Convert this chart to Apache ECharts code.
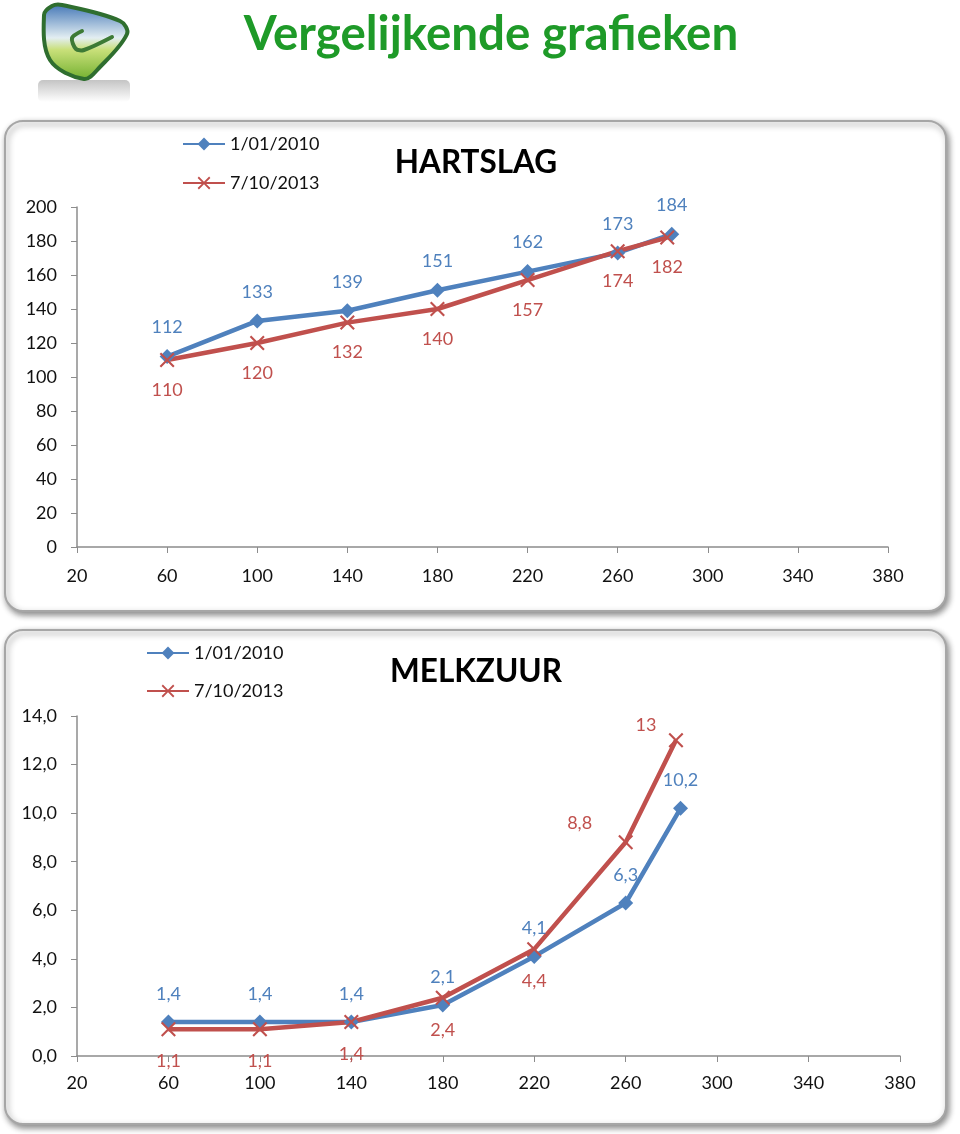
<!DOCTYPE html>
<html><head><meta charset="utf-8">
<script src="https://cdn.jsdelivr.net/npm/echarts@6/dist/echarts.min.js"></script>
<style>html,body{margin:0;padding:0;background:#fff}#c{width:960px;height:1134px}</style>
</head><body><div id="c"></div>
<script>
// ---- data ----
const pageTitle = 'Vergelijkende grafieken';
const chartTitles = ['HARTSLAG', 'MELKZUUR'];
const seriesNames = ['1/01/2010', '7/10/2013'];
const xBlue = [60, 100, 140, 180, 220, 260, 284];
const xRed = [60, 100, 140, 180, 220, 260, 282];
const hartBlue = [112, 133, 139, 151, 162, 173, 184];
const hartRed = [110, 120, 132, 140, 157, 174, 182];
const melkBlue = [1.4, 1.4, 1.4, 2.1, 4.1, 6.3, 10.2];
const melkRed = [1.1, 1.1, 1.4, 2.4, 4.4, 8.8, 13];
const xTickMin = 20, xTickMax = 380, xTickStep = 40;
const hartTickMin = 0, hartTickMax = 200, hartTickStep = 20;
const melkTickMin = 0, melkTickMax = 14, melkTickStep = 2;

// ---- styling ----
const FONT = 'Lato, "Open Sans", sans-serif';
const FS = 18;
const BLUE = '#4F81BD', RED = '#C0504D';
const X_SYMBOL = 'path://M1,0L5,4L9,0L10,1L6,5L10,9L9,10L5,6L1,10L0,9L4,5L0,1Z';
const comma = v => String(v).replace('.', ',');
const pairs = (xs, ys) => ys.map((y, i) => [xs[i], y]);

function xAxis(gi, margin) {
  return {
    type: 'value', gridIndex: gi, min: xTickMin, max: xTickMax, interval: xTickStep,
    axisLine: {show: true, lineStyle: {color: '#8c8c8c', width: 1.5}},
    axisTick: {show: true, length: 6, lineStyle: {color: '#8c8c8c'}},
    splitLine: {show: false},
    axisLabel: {color: '#111', fontSize: FS, fontFamily: FONT, margin: margin}
  };
}
function yAxis(gi, min, max, step, fmt) {
  return {
    type: 'value', gridIndex: gi, min: min, max: max, interval: step,
    axisLine: {show: true, lineStyle: {color: '#8c8c8c', width: 1.5}},
    axisTick: {show: true, length: 6, lineStyle: {color: '#8c8c8c'}},
    splitLine: {show: false},
    axisLabel: {color: '#111', fontSize: FS, fontFamily: FONT, margin: 20, formatter: fmt}
  };
}
function lineSeries(name, gi, data, color, symbol, size, labelOffset, overrides) {
  return {
    type: 'line', name: name, xAxisIndex: gi, yAxisIndex: gi,
    data: data.map((d, i) => {
      const o = overrides && overrides[i];
      return o ? {value: d, label: {offset: o}} : {value: d};
    }),
    symbol: symbol, symbolSize: size, showAllSymbol: true,
    lineStyle: {color: color, width: 4.5},
    itemStyle: {color: color},
    label: {show: true, position: 'inside', offset: labelOffset, color: color,
      fontSize: FS, fontFamily: FONT, formatter: p => comma(p.value[1])},
    emphasis: {disabled: true},
    animation: false
  };
}
function legend(left, top, gap) {
  return {
    data: seriesNames, orient: 'vertical', left: left, top: top, padding: 0,
    itemWidth: 42, itemHeight: 16, itemGap: gap,
    textStyle: {fontSize: FS, fontFamily: FONT, color: '#111'},
    selectedMode: false
  };
}

const logoOuterPts = [[52,6],[44,15],[50,60],[84,79],[99,68],[127,34],[120,21],[62,5]];
const logoInnerPts = [[82,31],[72,38],[76,49],[84,50],[112,37]];

const option = {
  backgroundColor: '#fff',
  animation: false,
  title: [
    {text: pageTitle, left: 486, top: 6, textAlign: 'center',
      textStyle: {color: '#1E9A28', fontSize: 47.5, fontWeight: 'bold', fontFamily: FONT}},
    {text: chartTitles[0], left: 471, top: 142, textAlign: 'center',
      textStyle: {color: '#000', fontSize: 31.5, fontWeight: 'bold', fontFamily: FONT}},
    {text: chartTitles[1], left: 471, top: 651, textAlign: 'center',
      textStyle: {color: '#000', fontSize: 31.5, fontWeight: 'bold', fontFamily: FONT}}
  ],
  legend: [legend(182, 135, 21), legend(146, 644, 20)],
  grid: [
    {left: 77, right: 72, top: 207, bottom: 1134 - 547},
    {left: 77, right: 60, top: 716, bottom: 1134 - 1056}
  ],
  xAxis: [xAxis(0, 20), xAxis(1, 18)],
  yAxis: [
    yAxis(0, hartTickMin, hartTickMax, hartTickStep, v => String(v)),
    yAxis(1, melkTickMin, melkTickMax, melkTickStep, v => v.toFixed(1).replace('.', ','))
  ],
  series: [
    lineSeries(seriesNames[0], 0, pairs(xBlue, hartBlue), BLUE, 'diamond', 15, [0, -29]),
    lineSeries(seriesNames[1], 0, pairs(xRed, hartRed), RED, X_SYMBOL, 15, [0, 30]),
    lineSeries(seriesNames[0], 1, pairs(xBlue, melkBlue), BLUE, 'diamond', 15, [0, -28]),
    lineSeries(seriesNames[1], 1, pairs(xRed, melkRed), RED, X_SYMBOL, 15, [0, 32],
      {5: [-46, -19], 6: [-30, -15]})
  ],
  graphic: [
    {type: 'rect', z: -10, shape: {x: 5, y: 121, width: 941, height: 490, r: 18},
      style: {fill: '#fff', stroke: '#a6a6a6', lineWidth: 2,
        shadowBlur: 6, shadowOffsetX: 2, shadowOffsetY: 3, shadowColor: 'rgba(0,0,0,0.45)'}},
    {type: 'rect', z: -10, shape: {x: 5, y: 630, width: 941, height: 494, r: 18},
      style: {fill: '#fff', stroke: '#a6a6a6', lineWidth: 2,
        shadowBlur: 6, shadowOffsetX: 2, shadowOffsetY: 3, shadowColor: 'rgba(0,0,0,0.45)'}},
    {type: 'rect', z: -5, shape: {x: 38, y: 80, width: 92, height: 22, r: 5},
      style: {fill: new echarts.graphic.LinearGradient(0, 0, 0, 1, [
        {offset: 0, color: '#c4c4c4'}, {offset: 1, color: '#ffffff'}])}},
    {type: 'polygon', z: -4, shape: {points: logoOuterPts, smooth: 0.35},
      style: {fill: new echarts.graphic.LinearGradient(0, 0, 0, 1, [
        {offset: 0, color: '#3d72b4'}, {offset: 0.45, color: '#e3eef2'},
        {offset: 0.6, color: '#c9e07a'}, {offset: 1, color: '#6fae2c'}]),
        stroke: '#2f6e2f', lineWidth: 4}},
    {type: 'polyline', z: -3, shape: {points: logoInnerPts, smooth: 0.3},
      style: {fill: null, stroke: '#3d7a35', lineWidth: 4, lineCap: 'round'}}
  ]
};
const chart = echarts.init(document.getElementById('c'), null, {renderer: 'canvas'});
chart.setOption(option);
</script></body></html>
